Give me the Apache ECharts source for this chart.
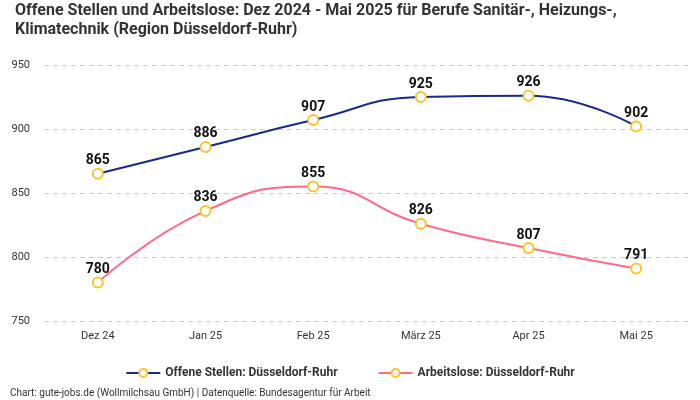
<!DOCTYPE html>
<html><head><meta charset="utf-8">
<script src="https://cdn.jsdelivr.net/npm/echarts@6/dist/echarts.min.js"></script>
<style>html,body{margin:0;padding:0;background:#fff}#c{width:700px;height:400px}</style>
</head><body><div id="c"></div>
<script>
const categories = ['Dez 24','Jan 25','Feb 25','März 25','Apr 25','Mai 25'];
const offeneStellen = [865, 886, 907, 925, 926, 902];
const arbeitslose = [780, 836, 855, 826, 807, 791];
const seriesNames = ['Offene Stellen: Düsseldorf-Ruhr', 'Arbeitslose: Düsseldorf-Ruhr'];
const yTicks = {min: 750, max: 950, interval: 50};

const chart = echarts.init(document.getElementById('c'), null, {renderer: 'canvas'});
const FONT = 'Roboto, "Noto Sans", sans-serif';
function mkSeries(name, data, color) {
  return {
    name, type: 'line', data, smooth: true,
    symbol: 'circle', symbolSize: 10,
    lineStyle: {color, width: 2},
    itemStyle: {color: '#ffffff', borderColor: '#f9c52a', borderWidth: 2},
    label: {show: true, position: 'top', distance: 0, color: '#111', fontSize: 14, fontWeight: 'bold', fontFamily: FONT}
  };
}
chart.setOption({
  animation: false,
  title: [{
    text: 'Offene Stellen und Arbeitslose: Dez 2024 - Mai 2025 für Berufe Sanitär-, Heizungs-,\nKlimatechnik (Region Düsseldorf-Ruhr)',
    left: 10, top: -4,
    textStyle: {fontSize: 16, fontWeight: 'bold', color: '#333', lineHeight: 19, fontFamily: '"Liberation Sans Narrow", Roboto, sans-serif'}
  }, {
    text: 'Chart: gute-jobs.de (Wollmilchsau GmbH) | Datenquelle: Bundesagentur für Arbeit',
    left: 5, top: 383,
    textStyle: {fontSize: 10, fontWeight: 'normal', color: '#333', fontFamily: FONT}
  }],
  legend: {
    bottom: 16, left: 'center', itemWidth: 34, itemHeight: 10, itemGap: 40,
    textStyle: {fontSize: 12, fontWeight: 'bold', color: '#333', fontFamily: FONT},
    data: seriesNames
  },
  grid: {left: 44, right: 10, top: 65, bottom: 79, containLabel: false},
  xAxis: {
    type: 'category', data: categories, boundaryGap: true,
    axisLine: {show: false}, axisTick: {show: false},
    axisLabel: {color: '#333', fontSize: 11, margin: 10, fontFamily: FONT}
  },
  yAxis: {
    type: 'value', min: yTicks.min, max: yTicks.max, interval: yTicks.interval,
    axisLine: {show: false}, axisTick: {show: false},
    axisLabel: {color: '#333', fontSize: 11, margin: 14, fontFamily: FONT},
    splitLine: {lineStyle: {color: '#ccc', type: [5, 4]}}
  },
  series: [mkSeries(seriesNames[0], offeneStellen, '#1b2a8a'), mkSeries(seriesNames[1], arbeitslose, '#ff6b84')]
});
</script></body></html>
